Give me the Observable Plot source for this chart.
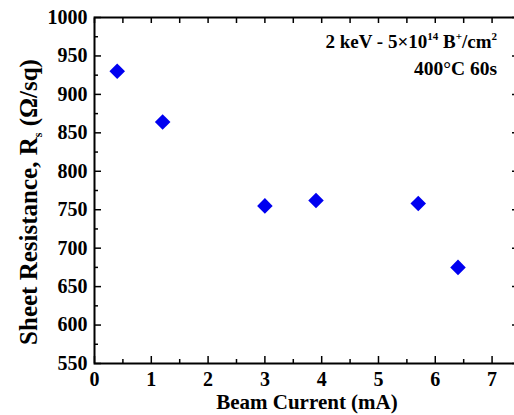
<!DOCTYPE html>
<html><head><meta charset="utf-8">
<script src="https://cdn.jsdelivr.net/npm/d3@7"></script>
<script src="https://cdn.jsdelivr.net/npm/@observablehq/plot@0.6"></script>
<style>
body{margin:0;background:#fff}
svg{display:block}
#chart svg text{font-family:"Liberation Serif","Times New Roman",serif !important;font-weight:bold !important;}
</style>
</head><body><div id="chart"></div>
<script>
const beamCurrent = [0.4, 1.2, 3.0, 3.9, 5.7, 6.4];
const sheetResistance = [930, 864, 755, 762, 758, 675];
const xTicks = [0, 1, 2, 3, 4, 5, 6, 7];
const xMinorTicks = [0.5, 1.5, 2.5, 3.5, 4.5, 5.5, 6.5];
const xTopTicks = [0, 0.5, 1, 1.5, 2, 2.5, 3, 3.5, 4, 4.5, 5, 5.5, 6, 6.5, 7];
const yTicks = [550, 600, 650, 700, 750, 800, 850, 900, 950, 1000];
const yMinorTicks = [575, 625, 675, 725, 775, 825, 875, 925, 975];
const xTitle = "Beam Current (mA)";
const yTitleParts = ["Sheet Resistance, R", "s", " (Ω/sq)"];
const noteLine2 = "400°C 60s";

const data = beamCurrent.map((x, i) => ({x, y: sheetResistance[i]}));
const font = "Liberation Serif, Times New Roman, serif";
const blank = () => "";
const txt = {fontFamily: font, fontWeight: "bold", fontSize: 20};

const chart = Plot.plot({
  width: 514, height: 415,
  marginLeft: 94, marginRight: -2, marginTop: 17, marginBottom: 52,
  style: {fontFamily: font, fontWeight: "bold", background: "white", color: "black", overflow: "visible"},
  x: {domain: [0, 7.43]},
  y: {domain: [550, 1000]},
  marks: [
    Plot.axisX({ticks: xTicks, tickSize: -7, tickPadding: 15, strokeWidth: 1.5, ...txt, label: null, tickFormat: d => String(d)}),
    Plot.axisX({ticks: xMinorTicks, tickSize: -4, strokeWidth: 1.5, label: null, tickFormat: blank}),
    Plot.axisX({anchor: "top", ticks: xTopTicks, tickSize: -5, strokeWidth: 1.5, label: null, tickFormat: blank}),
    Plot.axisY({ticks: yTicks, tickSize: -7, tickPadding: 14, strokeWidth: 1.5, ...txt, label: null, tickFormat: d => String(d)}),
    Plot.axisY({ticks: yMinorTicks, tickSize: -4, strokeWidth: 1.5, label: null, tickFormat: blank}),
    Plot.axisY({anchor: "right", ticks: yTicks, tickSize: -5, strokeWidth: 1.5, label: null, tickFormat: blank}),
    Plot.frame({stroke: "black", strokeWidth: 2}),
    Plot.dot(data, {x: "x", y: "y", symbol: "diamond2", r: 7, fill: "#0000f0", stroke: "none"})
  ]
});
document.getElementById("chart").appendChild(chart);

const svg = d3.select(chart);
// x title
svg.append("text")
  .attr("x", 307).attr("y", 409)
  .attr("text-anchor", "middle")
  .attr("font-family", font).attr("font-weight", "bold").attr("font-size", 21)
  .text(xTitle);
// y title
const yt = svg.append("text")
  .attr("transform", "translate(37,202) rotate(-90)")
  .attr("text-anchor", "middle")
  .attr("font-family", font).attr("font-weight", "bold").attr("font-size", 25);
yt.append("tspan").text(yTitleParts[0]);
yt.append("tspan").attr("font-size", 12).attr("dy", 5).text(yTitleParts[1]);
yt.append("tspan").attr("dy", -5).text(yTitleParts[2]);
// annotation
const n1 = svg.append("text")
  .attr("x", 497).attr("y", 48).attr("text-anchor", "end")
  .attr("font-family", font).attr("font-weight", "bold").attr("font-size", 19);
n1.append("tspan").text("2 keV - 5×10");
n1.append("tspan").attr("font-size", 11).attr("dy", -8).text("14");
n1.append("tspan").attr("dy", 8).text(" B");
n1.append("tspan").attr("font-size", 11).attr("dy", -8).text("+");
n1.append("tspan").attr("dy", 8).text("/cm");
n1.append("tspan").attr("font-size", 11).attr("dy", -8).text("2");
svg.append("text")
  .attr("x", 497).attr("y", 75).attr("text-anchor", "end")
  .attr("font-family", font).attr("font-weight", "bold").attr("font-size", 19.5)
  .text(noteLine2);
</script>
</body></html>
